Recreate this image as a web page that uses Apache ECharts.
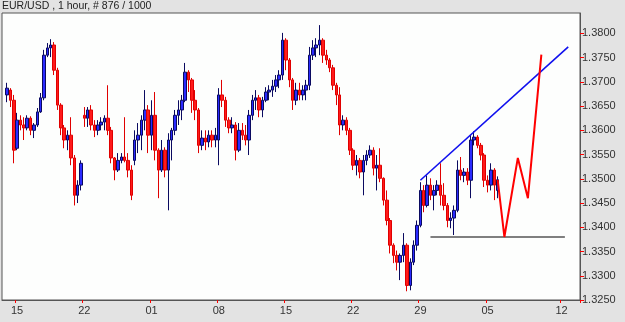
<!DOCTYPE html>
<html>
<head>
<meta charset="utf-8">
<script src="https://cdn.jsdelivr.net/npm/echarts@6/dist/echarts.min.js"></script>
<style>
html,body{margin:0;padding:0;background:#e3e3e3;}
#c{width:625px;height:322px;}
</style>
</head>
<body>
<div id="c"></div>
<script>
// ---- data (6-hour candles) ----
const titleText = 'EUR/USD , 1 hour, # 876 / 1000';
const nCats = 172;
const tickLabels = ['15','22','01','08','15','22','29','05','12'];
const tickIdx = [4,24,44,64,84,104,124,144,166];
const yTicks = [1.325,1.33,1.335,1.34,1.345,1.35,1.355,1.36,1.365,1.37,1.375,1.38];
const lastPrice = 1.3498;

const open = [null,
1.3673,1.3683,1.3662,1.3563,1.3621,1.3611,1.3605,1.3625,1.3600,1.3611,
1.3638,1.3667,1.3755,1.3770,1.3776,1.3724,1.3652,1.3605,1.3580,1.3590,
1.3543,1.3466,1.3487,1.3631,1.3625,1.3642,1.3611,1.3600,1.3611,1.3617,
1.3625,1.3600,1.3543,1.3518,1.3538,1.3545,1.3538,1.3518,1.3538,1.3580,
1.3590,1.3621,1.3642,1.3590,1.3631,1.3559,1.3518,1.3559,1.3518,1.3580,
1.3600,1.3631,1.3642,1.3662,1.3720,1.3704,1.3662,1.3642,1.3569,1.3584,
1.3576,1.3590,1.3580,1.3580,1.3673,1.3662,1.3621,1.3605,1.3611,1.3559,
1.3600,1.3590,1.3580,1.3631,1.3662,1.3667,1.3642,1.3662,1.3679,1.3683,
1.3691,1.3704,1.3714,1.3786,1.3745,1.3704,1.3662,1.3683,1.3673,1.3683,
1.3693,1.3755,1.3770,1.3776,1.3786,1.3755,1.3745,1.3729,1.3693,1.3673,
1.3611,1.3621,1.3600,1.3559,1.3528,1.3538,1.3514,1.3538,1.3549,1.3559,
1.3522,1.3528,1.3501,1.3456,1.3414,1.3363,1.3342,1.3328,1.3342,1.3363,
1.3280,1.3328,1.3363,1.3404,1.3476,1.3445,1.3487,1.3466,1.3476,1.3487,
1.3466,1.3445,1.3414,1.3419,1.3435,1.3518,1.3507,1.3514,1.3497,1.3580,
1.3586,1.3569,1.3549,1.3497,1.3487,1.3518,1.3476];

const close = [null,
1.3687,1.3662,1.3559,1.3621,1.3611,1.3605,1.3625,1.3600,1.3611,1.3638,
1.3667,1.3755,1.3770,1.3776,1.3724,1.3652,1.3605,1.3580,1.3590,1.3543,
1.3466,1.3487,1.3532,1.3625,1.3642,1.3611,1.3600,1.3611,1.3617,1.3625,
1.3600,1.3543,1.3518,1.3538,1.3545,1.3538,1.3518,1.3466,1.3580,1.3590,
1.3621,1.3642,1.3590,1.3631,1.3559,1.3518,1.3559,1.3518,1.3580,1.3600,
1.3631,1.3642,1.3662,1.3720,1.3704,1.3662,1.3642,1.3569,1.3584,1.3576,
1.3590,1.3580,1.3590,1.3673,1.3662,1.3621,1.3605,1.3611,1.3559,1.3600,
1.3590,1.3580,1.3631,1.3662,1.3667,1.3642,1.3662,1.3679,1.3683,1.3691,
1.3704,1.3714,1.3786,1.3745,1.3704,1.3662,1.3683,1.3673,1.3683,1.3693,
1.3755,1.3770,1.3776,1.3786,1.3755,1.3745,1.3729,1.3693,1.3673,1.3611,
1.3621,1.3600,1.3559,1.3528,1.3538,1.3514,1.3538,1.3549,1.3559,1.3522,
1.3528,1.3501,1.3456,1.3414,1.3363,1.3342,1.3328,1.3342,1.3363,1.3280,
1.3328,1.3363,1.3404,1.3476,1.3445,1.3487,1.3466,1.3476,1.3487,1.3466,
1.3445,1.3414,1.3419,1.3435,1.3518,1.3507,1.3514,1.3497,1.3580,1.3586,
1.3569,1.3549,1.3497,1.3487,1.3518,1.3487,1.3498];

const high = [null,
1.3698,1.3687,1.3673,1.3636,1.3631,1.3627,1.3631,1.3629,1.3615,1.3646,
1.3677,1.3766,1.3780,1.3788,1.3782,1.3729,1.3656,1.3611,1.3600,1.3627,
1.3549,1.3497,1.3538,1.3648,1.3648,1.3652,1.3621,1.3621,1.3627,1.3631,
1.3693,1.3607,1.3545,1.3553,1.3553,1.3627,1.3553,1.3528,1.3600,1.3615,
1.3631,1.3683,1.3652,1.3662,1.3679,1.3563,1.3580,1.3565,1.3594,1.3605,
1.3642,1.3662,1.3673,1.3739,1.3724,1.3708,1.3683,1.3646,1.3600,1.3600,
1.3600,1.3600,1.3605,1.3687,1.3704,1.3669,1.3627,1.3627,1.3617,1.3615,
1.3615,1.3611,1.3642,1.3673,1.3683,1.3673,1.3669,1.3689,1.3693,1.3704,
1.3714,1.3724,1.3801,1.3790,1.3749,1.3708,1.3698,1.3698,1.3693,1.3704,
1.3772,1.3786,1.3790,1.3817,1.3790,1.3766,1.3749,1.3735,1.3698,1.3689,
1.3631,1.3627,1.3605,1.3563,1.3549,1.3543,1.3549,1.3559,1.3569,1.3565,
1.3549,1.3563,1.3503,1.3476,1.3419,1.3367,1.3352,1.3346,1.3388,1.3367,
1.3336,1.3373,1.3414,1.3493,1.3487,1.3507,1.3501,1.3487,1.3497,1.3532,
1.3491,1.3450,1.3431,1.3445,1.3538,1.3545,1.3522,1.3522,1.3590,1.3598,
1.3590,1.3574,1.3553,1.3507,1.3532,1.3522,1.3505];

const low = [null,
1.3658,1.3648,1.3532,1.3559,1.3600,1.3580,1.3600,1.3590,1.3584,1.3607,
1.3636,1.3662,1.3751,1.3751,1.3714,1.3642,1.3590,1.3563,1.3559,1.3528,
1.3445,1.3450,1.3476,1.3607,1.3607,1.3600,1.3586,1.3590,1.3600,1.3600,
1.3590,1.3532,1.3497,1.3514,1.3532,1.3534,1.3503,1.3456,1.3528,1.3553,
1.3559,1.3600,1.3553,1.3559,1.3538,1.3460,1.3514,1.3503,1.3435,1.3538,
1.3590,1.3611,1.3621,1.3658,1.3679,1.3636,1.3621,1.3553,1.3559,1.3559,
1.3565,1.3565,1.3565,1.3528,1.3648,1.3607,1.3594,1.3594,1.3538,1.3555,
1.3580,1.3569,1.3549,1.3621,1.3642,1.3627,1.3627,1.3658,1.3662,1.3669,
1.3679,1.3687,1.3704,1.3724,1.3689,1.3642,1.3652,1.3662,1.3662,1.3662,
1.3683,1.3745,1.3751,1.3755,1.3739,1.3735,1.3720,1.3683,1.3652,1.3590,
1.3600,1.3590,1.3549,1.3518,1.3507,1.3501,1.3466,1.3528,1.3543,1.3507,
1.3476,1.3493,1.3445,1.3404,1.3346,1.3326,1.3311,1.3291,1.3328,1.3268,
1.3270,1.3322,1.3352,1.3400,1.3431,1.3441,1.3456,1.3435,1.3466,1.3445,
1.3435,1.3400,1.3398,1.3384,1.3431,1.3497,1.3493,1.3487,1.3460,1.3569,
1.3563,1.3538,1.3483,1.3472,1.3476,1.3456,1.3460];

// projection path (red), trend line (blue), support line (grey)
const projIdx = [147,149,153,156,160];
const projVal = [1.3498,1.3380,1.3543,1.3460,1.3756];
const trendIdx = [124,168];
const trendVal = [1.3497,1.3772];
const supportIdx = [127,167];
const supportVal = [1.3380,1.3380];

// ---- chart ----
const cats = Array.from({length:nCats},(_,i)=>String(i));
const labelOf = {};
tickIdx.forEach((k,j)=>{labelOf[k]=tickLabels[j];});
const candles = open.map((o,i)=> o==null ? '-' : [o, close[i], low[i], high[i]]);
const pairs = (xs,vs)=> xs.map((x,i)=>[x,vs[i]]);

const chart = echarts.init(document.getElementById('c'), null, {renderer:'canvas'});
chart.setOption({
  animation:false,
  backgroundColor:'#e3e3e3',
  title:{text:titleText,left:2,top:1,padding:0,textStyle:{fontFamily:'Liberation Sans',fontSize:10.5,fontWeight:'normal',color:'#222'}},
  grid:{left:2,right:45,top:13,bottom:22,show:true,backgroundColor:'#fdfefd',borderColor:'#555',borderWidth:1},
  xAxis:{
    type:'category',data:cats,boundaryGap:true,
    axisLine:{show:true,lineStyle:{color:'#555'}},
    axisTick:{show:true,length:3,lineStyle:{color:'#ff0000'},interval:(i)=>labelOf[i]!==undefined},
    axisLabel:{interval:(i)=>labelOf[i]!==undefined,formatter:(v,i)=>labelOf[i]||'',color:'#333',fontFamily:'Liberation Sans',fontSize:11,margin:5},
    splitLine:{show:false}
  },
  yAxis:{
    type:'value',position:'right',min:1.325,max:1.3842,scale:true,
    axisLine:{show:true,lineStyle:{color:'#555'}},
    axisTick:{show:true,length:4,lineStyle:{color:'#ff0000'},customValues:yTicks},
    axisLabel:{customValues:yTicks,formatter:(v)=>v.toFixed(4),color:'#333',fontFamily:'Liberation Sans',fontSize:11,margin:2},
    splitLine:{show:false}
  },
  series:[
    {type:'candlestick',data:candles,barWidth:3,
     itemStyle:{color:'#2a2aff',color0:'#ff1a1a',borderColor:'#0a0a60',borderColor0:'#e00000',borderWidth:1},
     markLine:{silent:true,symbol:['none','none'],
       data:[{yAxis:lastPrice}],
       lineStyle:{opacity:0},
       label:{show:true,position:'end',distance:3,formatter:()=>lastPrice.toFixed(4),color:'#3333ff',fontFamily:'Liberation Sans',fontSize:11,backgroundColor:'#fff',borderColor:'#ff0000',borderWidth:1,padding:[1,2,0,2]}}
    },
    {type:'line',data:pairs(trendIdx,trendVal),symbol:'none',lineStyle:{color:'#1010ee',width:1.6}},
    {type:'line',data:pairs(supportIdx,supportVal),symbol:'none',lineStyle:{color:'#555',width:1.5}},
    {type:'line',data:pairs(projIdx,projVal),symbol:'none',lineStyle:{color:'#ff0000',width:2}}
  ]
});
</script>
</body>
</html>
